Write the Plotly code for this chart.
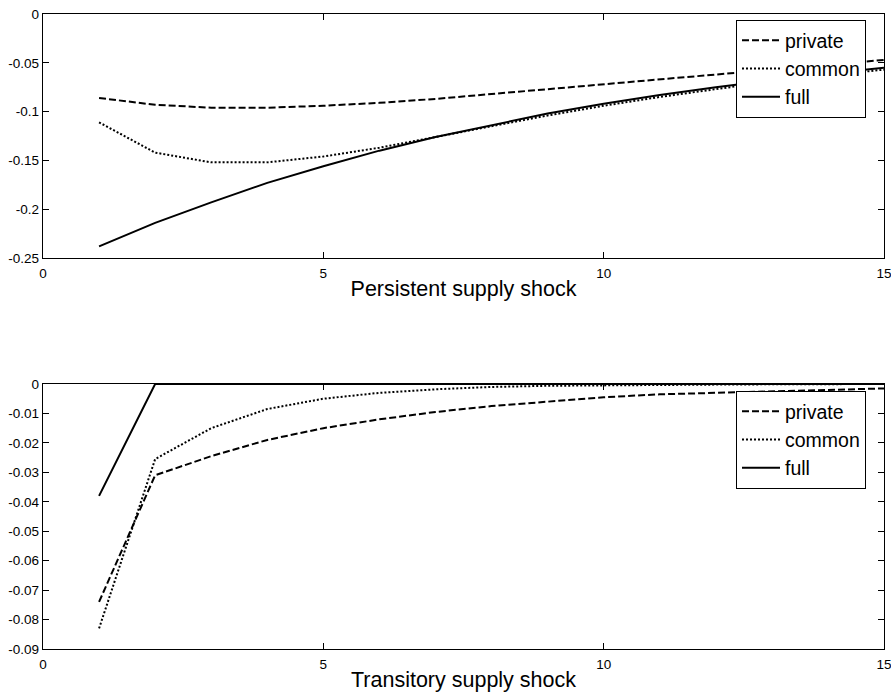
import plotly.graph_objects as go

periods = list(range(1, 16))

# Persistent supply shock
pers_private = [-0.086, -0.093, -0.096, -0.096, -0.094, -0.091, -0.087, -0.082, -0.077, -0.072,
                -0.067, -0.062, -0.057, -0.052, -0.047]
pers_common = [-0.111, -0.142, -0.152, -0.152, -0.146, -0.137, -0.126, -0.115, -0.104, -0.094,
               -0.085, -0.077, -0.069, -0.063, -0.057]
pers_full = [-0.238, -0.214, -0.193, -0.173, -0.156, -0.140, -0.126, -0.114, -0.102, -0.092,
             -0.083, -0.075, -0.068, -0.061, -0.055]

# Transitory supply shock
tran_private = [-0.074, -0.031, -0.0245, -0.019, -0.015, -0.012, -0.0095, -0.0075, -0.006, -0.0045,
                -0.0035, -0.003, -0.0025, -0.002, -0.0015]
tran_common = [-0.083, -0.0255, -0.015, -0.0085, -0.005, -0.003, -0.0018, -0.001, -0.0006, -0.0004,
               -0.0003, -0.0002, -0.0001, -0.0001, 0.0]
tran_full = [-0.038, 0.0, 0.0, 0.0, 0.0, 0.0, 0.0, 0.0, 0.0, 0.0, 0.0, 0.0, 0.0, 0.0, 0.0]

series_names = ["private", "common", "full"]
dashes = ["7px,3px", "2px,2px", "solid"]

top_yticks = [0, -0.05, -0.1, -0.15, -0.2, -0.25]
top_ylabels = ["0", "-0.05", "-0.1", "-0.15", "-0.2", "-0.25"]
bot_yticks = [0, -0.01, -0.02, -0.03, -0.04, -0.05, -0.06, -0.07, -0.08, -0.09]
bot_ylabels = ["0", "-0.01", "-0.02", "-0.03", "-0.04", "-0.05", "-0.06", "-0.07", "-0.08", "-0.09"]
xticks = [0, 5, 10, 15]

FONT = "Liberation Sans, Arial, Helvetica"

fig = go.Figure()

for name, ys, d in zip(series_names, [pers_private, pers_common, pers_full], dashes):
    fig.add_trace(go.Scatter(x=periods, y=ys, mode="lines", name=name,
                             line=dict(color="black", width=2, dash=d),
                             xaxis="x", yaxis="y", legend="legend"))
for name, ys, d in zip(series_names, [tran_private, tran_common, tran_full], dashes):
    fig.add_trace(go.Scatter(x=periods, y=ys, mode="lines", name=name,
                             line=dict(color="black", width=2, dash=d),
                             xaxis="x2", yaxis="y2", legend="legend2"))

axis_common = dict(showgrid=False, zeroline=False, showline=True, linecolor="black",
                   linewidth=1.4, mirror="allticks", ticks="inside", ticklen=6,
                   tickcolor="black", automargin=False, ticklabeloverflow="allow",
                   tickfont=dict(family=FONT, size=13.5, color="black"))

top_dom = [0.6157, 1.0]
bot_dom = [0.0, 0.4173]

legend_style = dict(xanchor="right", yanchor="top", bgcolor="white",
                    bordercolor="black", borderwidth=1, itemwidth=38,
                    font=dict(family=FONT, size=19.5, color="black"), tracegroupgap=0)

fig.update_layout(
    width=891, height=694,
    margin=dict(l=43, r=7, t=14, b=45),
    paper_bgcolor="white", plot_bgcolor="white",
    font=dict(family=FONT, color="black"),
    xaxis=dict(range=[0, 15], tickvals=xticks, ticktext=[str(t) for t in xticks], domain=[0, 1],
               anchor="y", ticklabelstandoff=3,
               title=dict(text="Persistent supply shock", font=dict(size=21.5), standoff=0),
               **axis_common),
    yaxis=dict(range=[-0.25, 0], tickvals=top_yticks, ticktext=top_ylabels, domain=top_dom,
               anchor="x", **axis_common),
    xaxis2=dict(range=[0, 15], tickvals=xticks, ticktext=[str(t) for t in xticks], domain=[0, 1],
                anchor="y2", ticklabelstandoff=3,
                title=dict(text="Transitory supply shock", font=dict(size=21.5), standoff=0),
                **axis_common),
    yaxis2=dict(range=[-0.09, 0], tickvals=bot_yticks, ticktext=bot_ylabels, domain=bot_dom,
                anchor="x2", **axis_common),
    legend=dict(x=0.9786, y=0.9906, **legend_style),
    legend2=dict(x=0.9786, y=0.4063, **legend_style),
)

fig.write_html(
    "out.html",
    config={"displayModeBar": False},
    post_script="document.body.style.margin='0';document.body.style.overflow='hidden';",
)
